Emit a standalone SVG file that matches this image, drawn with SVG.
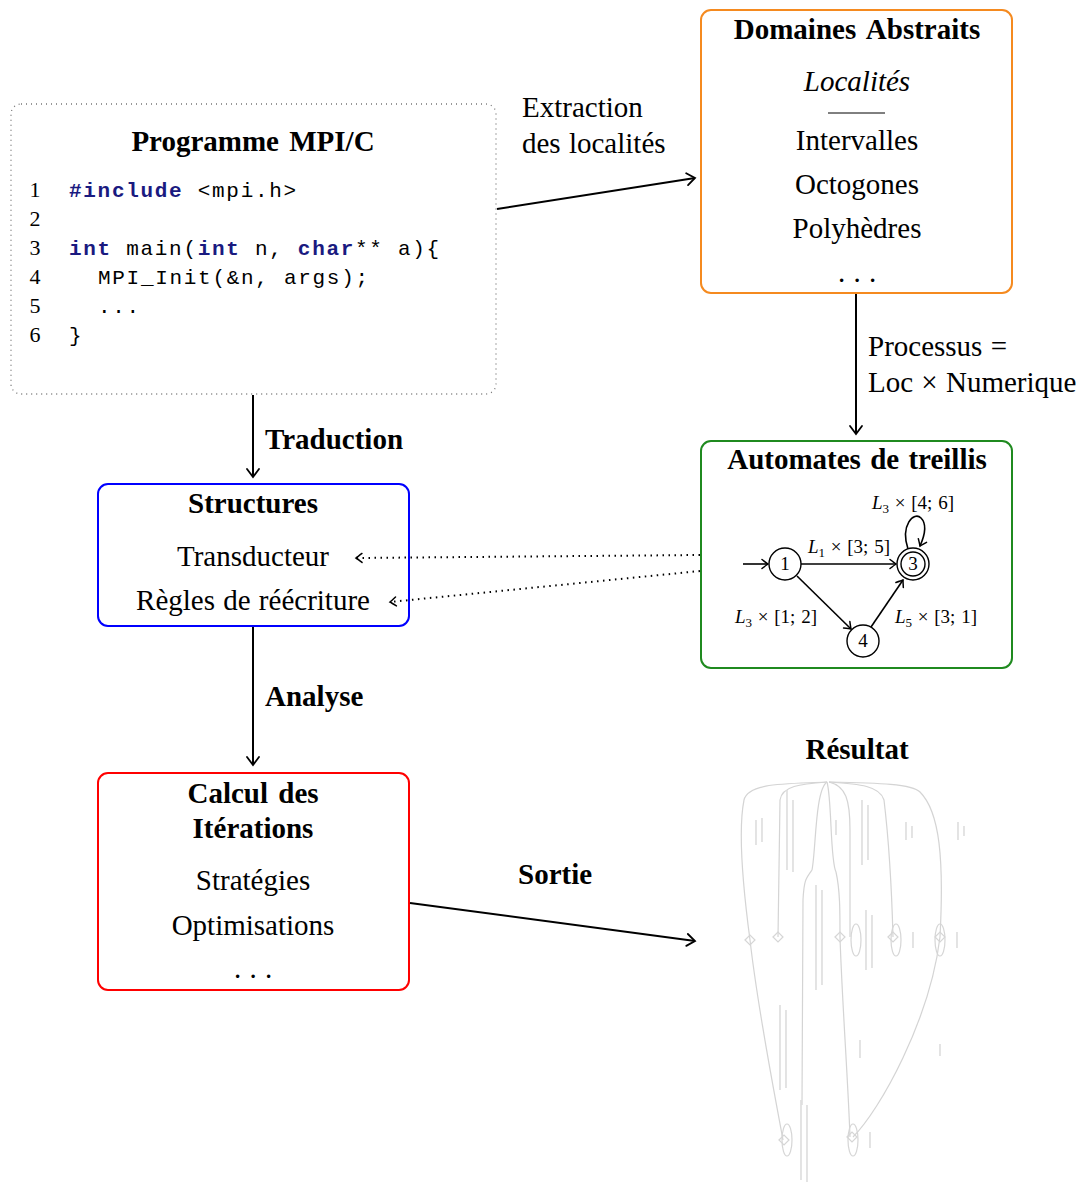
<svg xmlns="http://www.w3.org/2000/svg" width="1079" height="1185" viewBox="0 0 1079 1185">
<style>
.t{font-family:"Liberation Serif","Times New Roman",serif;font-size:29px;word-spacing:1px;fill:#000}
.b{font-weight:bold}
.c{text-anchor:middle}
.i{font-style:italic}
.code{font-family:"Liberation Mono","Courier New",monospace;font-size:21px;letter-spacing:1.7px;fill:#000}
.kw{font-weight:bold;fill:#1a1a80}
.ln{font-family:"Liberation Serif",serif;font-size:22px;text-anchor:middle}
.box{fill:#fff;stroke-width:2}
.arr{fill:none;stroke:#000;stroke-width:2;marker-end:url(#ah)}
.dot{fill:none;stroke:#000;stroke-width:2;stroke-dasharray:1.5 4.5;marker-end:url(#ahs)}
.st{fill:#fff;stroke:#000;stroke-width:1.4}
.ae{fill:none;stroke:#000;stroke-width:1.6;marker-end:url(#ahs)}
.m{font-family:"Liberation Serif",serif;font-size:19px;word-spacing:1px}
.g{fill:none;stroke:#cdcdcd;stroke-width:1.2}
.gt{stroke:#d8d8d8;stroke-width:1.6}
</style>
<defs>
<marker id="ah" viewBox="-10 -8 12 16" markerWidth="12" markerHeight="16" refX="0" refY="0" orient="auto" markerUnits="userSpaceOnUse">
<path d="M-8,-6 Q-2,-1.5 0,0 Q-2,1.5 -8,6" fill="none" stroke="#000" stroke-width="1.8" stroke-linecap="round"/>
</marker>
<marker id="ahs" viewBox="-8 -6 10 12" markerWidth="10" markerHeight="12" refX="0" refY="0" orient="auto" markerUnits="userSpaceOnUse">
<path d="M-6,-4.5 Q-1.5,-1 0,0 Q-1.5,1 -6,4.5" fill="none" stroke="#000" stroke-width="1.5" stroke-linecap="round"/>
</marker>
</defs>
<rect width="1079" height="1185" fill="#fff"/>

<g id="programme">
<rect x="11" y="104" width="485" height="290" rx="10" fill="#fff" stroke="#777" stroke-width="1.3" stroke-dasharray="1 4"/>
<text class="t b c" x="253" y="151" style="word-spacing:3px">Programme MPI/C</text>
<text class="ln" x="35" y="197">1</text>
<text class="ln" x="35" y="226">2</text>
<text class="ln" x="35" y="255">3</text>
<text class="ln" x="35" y="284">4</text>
<text class="ln" x="35" y="313">5</text>
<text class="ln" x="35" y="342">6</text>
<text class="code" x="69" y="197" xml:space="preserve"><tspan class="kw">#include</tspan> &lt;mpi.h&gt;</text>
<text class="code" x="69" y="255" xml:space="preserve"><tspan class="kw">int</tspan> main(<tspan class="kw">int</tspan> n, <tspan class="kw">char</tspan>** a){</text>
<text class="code" x="98" y="284" xml:space="preserve">MPI_Init(&amp;n, args);</text>
<text class="code" x="98" y="313">...</text>
<text class="code" x="69" y="342">}</text>
</g>

<g id="domaines">
<rect class="box" x="701" y="10" width="311" height="283" rx="10" stroke="#f58a1f"/>
<text class="t b c" x="857" y="39" style="word-spacing:4px">Domaines Abstraits</text>
<text class="t i c" x="857" y="91">Localités</text>
<line x1="828" y1="113" x2="885" y2="113" stroke="#000" stroke-width="1"/>
<text class="t c" x="857" y="150">Intervalles</text>
<text class="t c" x="857" y="194">Octogones</text>
<text class="t c" x="857" y="238">Polyhèdres</text>
<text class="t c" x="857" y="282">. . .</text>
</g>

<g id="automates">
<rect class="box" x="701" y="441" width="311" height="227" rx="10" stroke="#1f8a1f"/>
<text class="t b c" x="857" y="469" style="word-spacing:2px">Automates de treillis</text>
<line class="ae" x1="743" y1="564" x2="768" y2="564"/>
<line class="ae" x1="801" y1="564" x2="896" y2="564"/>
<line class="ae" x1="797" y1="576" x2="851" y2="629"/>
<line class="ae" x1="871" y1="627" x2="903" y2="580"/>
<path class="ae" d="M908,549 C900,525 914,511 921,518 C928,525 924,537 920,546"/>
<circle class="st" cx="785" cy="564" r="16"/>
<circle class="st" cx="913" cy="564" r="16"/>
<circle class="st" cx="913" cy="564" r="12"/>
<circle class="st" cx="863" cy="641" r="16"/>
<text class="m c" x="785" y="570">1</text>
<text class="m c" x="913" y="570">3</text>
<text class="m c" x="863" y="647">4</text>
<text class="m" x="808" y="553"><tspan class="i">L</tspan><tspan font-size="13" dy="4">1</tspan><tspan dy="-4"> × [3; 5]</tspan></text>
<text class="m" x="735" y="623"><tspan class="i">L</tspan><tspan font-size="13" dy="4">3</tspan><tspan dy="-4"> × [1; 2]</tspan></text>
<text class="m" x="895" y="623"><tspan class="i">L</tspan><tspan font-size="13" dy="4">5</tspan><tspan dy="-4"> × [3; 1]</tspan></text>
<text class="m" x="872" y="509"><tspan class="i">L</tspan><tspan font-size="13" dy="4">3</tspan><tspan dy="-4"> × [4; 6]</tspan></text>
</g>

<g id="structures">
<rect class="box" x="98" y="484" width="311" height="142" rx="10" stroke="#0000ff"/>
<text class="t b c" x="253" y="513">Structures</text>
<text class="t c" x="253" y="566">Transducteur</text>
<text class="t c" x="253" y="610">Règles de réécriture</text>
</g>

<g id="calcul">
<rect class="box" x="98" y="773" width="311" height="217" rx="10" stroke="#ff0000"/>
<text class="t b c" x="253" y="803" style="word-spacing:3px">Calcul des</text>
<text class="t b c" x="253" y="838">Itérations</text>
<text class="t c" x="253" y="890">Stratégies</text>
<text class="t c" x="253" y="935">Optimisations</text>
<text class="t c" x="253" y="978">. . .</text>
</g>

<g id="resultat">
<text class="t b c" x="857" y="759">Résultat</text>
<g opacity="0.85">
<path class="g" d="M827,782 C790,784 748,782 744,800 C738,830 742,880 750,940 C758,1010 772,1080 783,1140"/>
<path class="g" d="M827,782 C800,784 782,786 780,800 L778,937"/>
<path class="g" d="M827,782 C815,790 816,850 812,870 C806,878 804,880 803,900 L802,1105"/>
<path class="g" d="M827,782 C832,800 830,860 836,872 C840,890 840,910 840,937 C842,1000 848,1080 850,1137"/>
<path class="g" d="M829,782 C860,784 880,786 884,800 C890,850 892,900 893,937"/>
<path class="g" d="M829,782 C880,783 912,784 920,792 C940,812 944,860 940,937 C930,1020 880,1110 853,1137"/>
<path class="g" d="M829,782 C846,786 850,800 850,830 L850,937"/>
<g fill="none" stroke="#cfcfcf" stroke-width="1.2">
<path d="M745,940 l5,-5 l5,5 l-5,5 z"/>
<path d="M773,937 l5,-5 l5,5 l-5,5 z"/>
<path d="M835,937 l5,-5 l5,5 l-5,5 z"/>
<path d="M888,937 l5,-5 l5,5 l-5,5 z"/>
<path d="M935,937 l5,-5 l5,5 l-5,5 z"/>
<path d="M779,1140 l5,-5 l5,5 l-5,5 z"/>
<path d="M847,1137 l5,-5 l5,5 l-5,5 z"/>
<ellipse cx="856" cy="940" rx="5" ry="16"/>
<ellipse cx="896" cy="940" rx="5" ry="16"/>
<ellipse cx="940" cy="940" rx="5" ry="16"/>
<ellipse cx="787" cy="1140" rx="5" ry="16"/>
<ellipse cx="853" cy="1140" rx="5" ry="16"/>
</g>
<g class="gt">
<line x1="756" y1="820" x2="756" y2="845"/><line x1="762" y1="818" x2="762" y2="842"/>
<line x1="787" y1="790" x2="787" y2="870"/><line x1="793" y1="800" x2="793" y2="872"/>
<line x1="836" y1="820" x2="836" y2="835"/>
<line x1="862" y1="800" x2="862" y2="865"/><line x1="868" y1="805" x2="868" y2="860"/>
<line x1="906" y1="822" x2="906" y2="840"/><line x1="912" y1="826" x2="912" y2="838"/>
<line x1="958" y1="822" x2="958" y2="840"/><line x1="964" y1="826" x2="964" y2="836"/>
<line x1="816" y1="885" x2="816" y2="990"/><line x1="822" y1="890" x2="822" y2="985"/>
<line x1="866" y1="910" x2="866" y2="970"/><line x1="872" y1="915" x2="872" y2="968"/>
<line x1="913" y1="932" x2="913" y2="948"/><line x1="957" y1="932" x2="957" y2="948"/>
<line x1="780" y1="1005" x2="780" y2="1090"/><line x1="786" y1="1010" x2="786" y2="1088"/>
<line x1="860" y1="1040" x2="860" y2="1058"/><line x1="940" y1="1044" x2="940" y2="1056"/>
<line x1="801" y1="1100" x2="801" y2="1180"/><line x1="807" y1="1105" x2="807" y2="1182"/>
<line x1="870" y1="1132" x2="870" y2="1148"/>
</g>
</g>
</g>

<g id="connectors">
<line class="arr" x1="497" y1="209" x2="695" y2="178"/>
<text class="t" x="522" y="117">Extraction</text>
<text class="t" x="522" y="153">des localités</text>
<line class="arr" x1="856" y1="294" x2="856" y2="434"/>
<text class="t" x="868" y="356">Processus =</text>
<text class="t" x="868" y="392">Loc × Numerique</text>
<line class="arr" x1="253" y1="395" x2="253" y2="477"/>
<text class="t b" x="265" y="449">Traduction</text>
<line class="arr" x1="253" y1="627" x2="253" y2="765"/>
<text class="t b" x="265" y="706">Analyse</text>
<line class="arr" x1="410" y1="903" x2="695" y2="941"/>
<text class="t b" x="518" y="884">Sortie</text>
<line class="dot" x1="700" y1="555" x2="356" y2="558"/>
<line class="dot" x1="700" y1="571" x2="390" y2="602"/>
</g>
</svg>
